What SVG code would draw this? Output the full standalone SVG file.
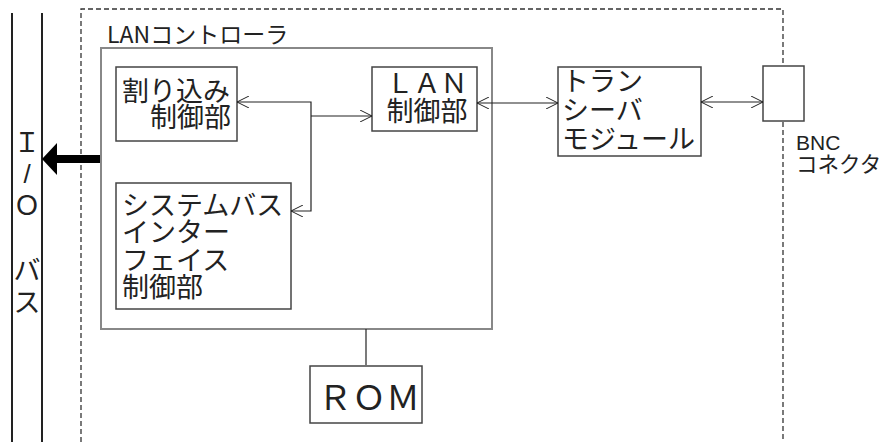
<svg xmlns="http://www.w3.org/2000/svg" width="890" height="442" viewBox="0 0 890 442">
<defs>
<marker id="ah" viewBox="0 0 12 12" refX="12" refY="6" markerWidth="12" markerHeight="12" markerUnits="userSpaceOnUse" orient="auto-start-reverse">
<path d="M0,0 L12,6 L0,12" fill="none" stroke="#222" stroke-width="1"/>
</marker>
</defs>
<style>
.jp{font-family:"Noto Sans CJK JP","Noto Sans",sans-serif;fill:#222}
.lat{font-family:"Liberation Sans",Arial,sans-serif;fill:#222}
.box{fill:#fff;stroke:#444;stroke-width:1.5}
.outer{fill:#fff;stroke:#888;stroke-width:2}
.dash{fill:none;stroke:#333;stroke-width:1.3;stroke-dasharray:5,3}
.conn{fill:none;stroke:#222;stroke-width:1.2}
</style>
<rect width="890" height="442" fill="#fff"/>
<g id="boundary">
<path class="dash" d="M81,442 V9 H783 V66"/>
<path class="dash" d="M783,122 V442"/>
</g>
<g id="io-bus">
<line x1="12" y1="13" x2="12" y2="442" stroke="#222" stroke-width="2"/>
<line x1="42" y1="13" x2="42" y2="442" stroke="#222" stroke-width="2"/>
<text class="jp" font-size="27" text-anchor="middle" x="27" y="152">Ｉ</text>
<text class="lat" font-size="26" text-anchor="middle" x="27" y="183">/</text>
<text class="jp" font-size="27" text-anchor="middle" x="27" y="215">Ｏ</text>
<text class="jp" font-size="27" text-anchor="middle" x="27" y="280">バ</text>
<text class="jp" font-size="27" text-anchor="middle" x="27" y="312">ス</text>
</g>
<g id="lan-controller">
<rect class="outer" x="101" y="48" width="391" height="281"/>
<text class="jp" font-size="23" x="107" y="43">LANコントローラ</text>
</g>
<g id="interrupt">
<rect class="box" x="116" y="67" width="121" height="74"/>
<text class="jp" font-size="27" x="122" y="101">割り込み</text>
<text class="jp" font-size="27" x="231" y="127" text-anchor="end">制御部</text>
</g>
<g id="lan-ctrl">
<rect class="box" x="372" y="67" width="105" height="64"/>
<text class="jp" font-size="27" x="427" y="93" text-anchor="middle">ＬＡＮ</text>
<text class="jp" font-size="27" x="427" y="121" text-anchor="middle">制御部</text>
</g>
<g id="sysbus">
<rect class="box" x="116" y="183" width="175" height="126"/>
<text class="jp" font-size="27" x="122" y="215">システムバス</text>
<text class="jp" font-size="27" x="122" y="242">インター</text>
<text class="jp" font-size="27" x="122" y="270">フェイス</text>
<text class="jp" font-size="27" x="122" y="297">制御部</text>
</g>
<g id="transceiver">
<rect class="box" x="558" y="67" width="143" height="89" stroke="#222"/>
<text class="jp" font-size="27" x="562" y="91">トラン</text>
<text class="jp" font-size="27" x="562" y="120">シーバ</text>
<text class="jp" font-size="27" x="562" y="149">モジュール</text>
</g>
<g id="bnc">
<rect class="box" x="763" y="66" width="41" height="55"/>
<text class="lat" font-size="21" x="796" y="150">BNC</text>
<text class="jp" font-size="21.5" x="796" y="172">コネクタ</text>
</g>
<g id="rom">
<rect class="box" x="310" y="366" width="112" height="57"/>
<text class="jp" font-size="34" x="369" y="410" text-anchor="middle">ＲＯＭ</text>
</g>
<g id="connectors">
<path class="conn" d="M237,102 H311 V211 H291" marker-start="url(#ah)" marker-end="url(#ah)"/>
<path class="conn" d="M311,116 H372" marker-end="url(#ah)"/>
<path class="conn" d="M477,103 H558" marker-start="url(#ah)" marker-end="url(#ah)"/>
<path class="conn" d="M701,102 H763" marker-start="url(#ah)" marker-end="url(#ah)"/>
<path class="conn" d="M366,329 V365"/>
<path d="M100,155 H57 V143 L42,159 L57,175 V163 H100 Z" fill="#000"/>
</g>
</svg>
